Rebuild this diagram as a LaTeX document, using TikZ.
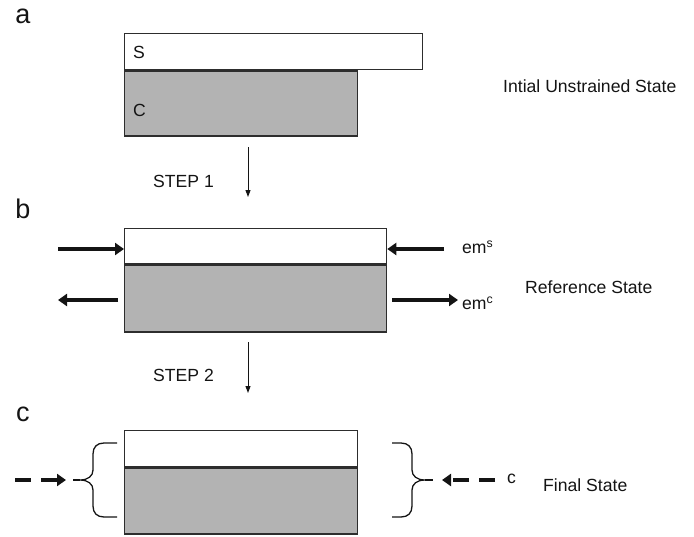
\documentclass[tikz,border=0pt]{standalone}
\usepackage{fontspec}
\setmainfont{Liberation Sans}
\usetikzlibrary{arrows.meta, positioning}
\definecolor{cCore}{RGB}{179, 179, 179}
\definecolor{bLayer}{RGB}{45, 45, 45}
\definecolor{tDark}{RGB}{20, 20, 20}

\begin{document}
\begin{tikzpicture}[
    x=1pt, y=-1pt,
    font=\fontsize{17.6}{20}\selectfont,
    text=tDark,
    layer/.style={
        draw=bLayer,
        line width=1.3pt,
        inner sep=0pt,
        anchor=north west
    },
    shell/.style={layer, fill=white},
    core/.style={layer, fill=cCore},
    txt/.style={inner sep=0pt, anchor=west},
    tag/.style={font=\fontsize{27}{30}\selectfont, inner sep=0pt},
    stepline/.style={-{Triangle[length=7pt, width=5pt]}, line width=1pt, color=tDark},
    force/.style={-{Triangle[length=9pt, width=12pt]}, line width=4pt, color=tDark},
    push/.style={force, dash pattern=on 16pt off 10pt},
    brace/.style={line width=1.3pt, color=tDark}
]
\useasboundingbox (0,0) rectangle (694,536);

% (a) initial unstrained state
\node[tag] (la) at (23,16) {a};
\node[shell, minimum width=298pt, minimum height=36pt] (sA) at (124,33) {};
\node[core, minimum width=233pt, minimum height=65pt] (cA) at (sA.south west) {};
\node[txt] (lS) at (133,52) {S};
\node[txt] (lC) at (133,110) {C};
\node[txt] (stA) at (503,86) {Intial Unstrained State};

\coordinate (s1a) at (248,147);
\coordinate (s1b) at (248,197);
\draw[stepline] (s1a) -- (s1b);
\node[txt] (step1) at (153,181) {STEP 1};

% (b) reference state
\node[tag] (lb) at (23,209) {b};
\node[shell, minimum width=262pt, minimum height=35pt] (sB) at (124,228) {};
\node[core, minimum width=262pt, minimum height=67pt] (cB) at (sB.south west) {};

\coordinate (fl1) at (58,249);
\coordinate (fr1) at (444,249);
\coordinate (fl2) at (118,300);
\coordinate (fl2e) at (58,300);
\coordinate (fr2) at (392,300);
\coordinate (fr2e) at (458,300);
\draw[force] (fl1) -- (fl1 -| sB.west);
\draw[force] (fr1) -- (fr1 -| sB.east);
\draw[force] (fl2) -- (fl2e);
\draw[force] (fr2) -- (fr2e);
\node[txt] (ems) at (462,247) {em\textsuperscript{s}};
\node[txt] (emc) at (462,303) {em\textsuperscript{c}};
\node[txt] (stB) at (525,287) {Reference State};

\coordinate (s2a) at (248,342);
\coordinate (s2b) at (248,393);
\draw[stepline] (s2a) -- (s2b);
\node[txt] (step2) at (153,375) {STEP 2};

% (c) final state
\node[tag] (lc) at (23,414) {c};
\node[shell, minimum width=233pt, minimum height=36pt] (sC) at (124,430) {};
\node[core, minimum width=233pt, minimum height=66pt] (cC) at (sC.south west) {};

\draw[brace] (117,443) -- (104,443) .. controls (97,443) and (93,447) .. (93,454) -- (93,470)
    .. controls (93,476) and (88,480) .. (80,480) .. controls (88,480) and (93,484) .. (93,490)
    -- (93,506) .. controls (93,513) and (97,517) .. (104,517) -- (117,517);
\draw[brace] (80,480) -- (73,480);
\draw[brace] (392,443) -- (401,443) .. controls (408,443) and (412,447) .. (412,454) -- (412,470)
    .. controls (412,476) and (417,480) .. (425,480) .. controls (417,480) and (412,484) .. (412,490)
    -- (412,506) .. controls (412,513) and (408,517) .. (401,517) -- (392,517);
\draw[brace] (425,480) -- (433,480);

\coordinate (pl0) at (15,480);
\coordinate (pl1) at (66,480);
\coordinate (pr0) at (495,480);
\coordinate (pr1) at (442,480);
\draw[push] (pl0) -- (pl1);
\draw[push] (pr0) -- (pr1);
\node[txt] (lcc) at (507,479) {c};
\node[txt] (stC) at (543,485) {Final State};

\end{tikzpicture}
\end{document}
